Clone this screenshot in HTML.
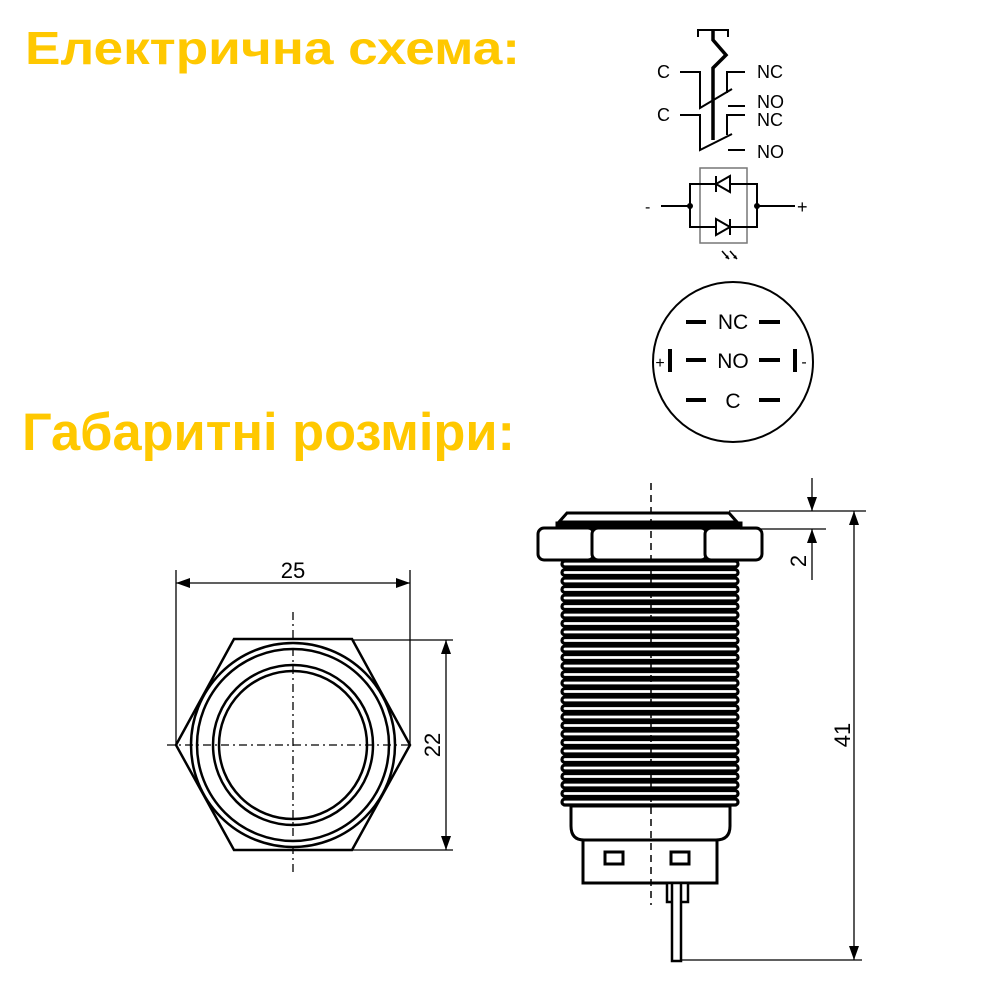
<!DOCTYPE html>
<html><head><meta charset="utf-8"><style>html,body{margin:0;padding:0;background:#fff}</style></head><body>
<svg width="1000" height="1000" viewBox="0 0 1000 1000" xmlns="http://www.w3.org/2000/svg" font-family="Liberation Sans, DejaVu Sans, sans-serif">
<rect width="1000" height="1000" fill="#fff"/>
<text x="25" y="64" font-size="46" font-weight="bold" fill="#FFC800" textLength="495" lengthAdjust="spacingAndGlyphs">Електрична схема:</text>
<text x="22" y="450" font-size="53" font-weight="bold" fill="#FFC800" textLength="493" lengthAdjust="spacingAndGlyphs">Габаритні розміри:</text>

<!-- switch schematic -->
<g stroke="#000" fill="none" stroke-width="2">
<path d="M698,37 V30 H728 V37"/>
<path d="M713,30 V40 L726,55 L713,68 V140" stroke-width="3.5"/>
<path d="M680,72 H700 V108 L732,89"/>
<path d="M745,72 H727 V93"/>
<path d="M728,106 H745"/>
<path d="M680,115 H700 V150 L732,134"/>
<path d="M745,115 H727 V135"/>
<path d="M728,150 H745"/>
</g>
<g font-size="18" fill="#000">
<text x="657" y="78">C</text><text x="657" y="121">C</text>
<text x="757" y="78">NC</text><text x="757" y="108">NO</text><text x="757" y="126">NC</text><text x="757" y="158">NO</text>
</g>
<!-- LED -->
<rect x="700" y="168" width="47" height="75" fill="none" stroke="#777" stroke-width="1.5"/>
<g stroke="#000" stroke-width="2" fill="none">
<rect x="690" y="184" width="67" height="43"/>
<path d="M661,206 H690 M757,206 H795"/>
<path d="M730,176 V192 L716,184 Z M716,176 V192" fill="#fff"/>
<path d="M716,219 V235 L730,227 Z M730,219 V235" fill="#fff"/>
<path d="M722,251 l7,8 M730,251 l7,8" stroke-width="1.5"/>
</g>
<path d="M729,259 l-4,-1 l3,-3 Z M737,259 l-4,-1 l3,-3 Z" fill="#000"/>
<circle cx="690" cy="206" r="3" fill="#000"/><circle cx="757" cy="206" r="3" fill="#000"/>
<text x="645" y="212" font-size="16">-</text><text x="797" y="213" font-size="18">+</text>

<!-- pin circle -->
<circle cx="733" cy="362" r="80" fill="none" stroke="#000" stroke-width="2"/>
<g stroke="#000" stroke-width="4">
<path d="M686,322 H706 M759,322 H780 M686,360 H706 M759,360 H780 M686,400 H706 M759,400 H780"/>
<path d="M670,349 V372 M795,349 V372"/>
</g>
<g font-size="21" text-anchor="middle">
<text x="733" y="329">NC</text><text x="733" y="368">NO</text><text x="733" y="408">C</text>
<text x="660" y="368" font-size="16">+</text><text x="804" y="367" font-size="16">-</text>
</g>

<!-- front hex view -->
<g stroke="#000" fill="none">
<polygon points="176,745 234,639 352,639 410,745 352,850 234,850" stroke-width="2.5"/>
<circle cx="293" cy="745" r="102" stroke-width="2.5"/>
<circle cx="293" cy="745" r="96" stroke-width="2.5"/>
<circle cx="293" cy="745" r="80" stroke-width="2.5"/>
<circle cx="293" cy="745" r="74" stroke-width="2.5"/>
<path d="M293,612 V876 M167,745 H413" stroke-width="1.3" stroke-dasharray="8,4,2,4"/>
<path d="M176,570 V745 M410,570 V745 M352,640 H453 M352,850 H453 M176,583 H410 M446,640 V850" stroke-width="1.3"/>
</g>
<g fill="#000">
<path d="M176,583 l14,-5 v10 Z M410,583 l-14,-5 v10 Z M446,640 l-5,14 h10 Z M446,850 l-5,-14 h10 Z"/>
</g>
<text x="293" y="578" font-size="22" text-anchor="middle">25</text>
<text transform="translate(440,745) rotate(-90)" font-size="22" text-anchor="middle">22</text>

<!-- side view -->
<g stroke="#000" fill="#fff">
<path d="M567,513 H729 L737,522 H559 Z" stroke-width="3"/>
<rect x="538" y="528" width="56" height="32" rx="6" stroke-width="3"/>
<rect x="592" y="528" width="115" height="32" rx="6" stroke-width="3"/>
<rect x="705" y="528" width="57" height="32" rx="6" stroke-width="3"/>
<path d="M556,522 H742 V528 H556 Z" fill="#000" stroke-width="1"/>
</g>
<g stroke="#000" stroke-width="3.2" fill="#fff">
<rect x="562" y="561" width="176" height="6" rx="3"/><rect x="562" y="569.5" width="176" height="6" rx="3"/>
<rect x="562" y="578" width="176" height="6" rx="3"/><rect x="562" y="586.5" width="176" height="6" rx="3"/>
<rect x="562" y="595" width="176" height="6" rx="3"/><rect x="562" y="603.5" width="176" height="6" rx="3"/>
<rect x="562" y="612" width="176" height="6" rx="3"/><rect x="562" y="620.5" width="176" height="6" rx="3"/>
<rect x="562" y="629" width="176" height="6" rx="3"/><rect x="562" y="637.5" width="176" height="6" rx="3"/>
<rect x="562" y="646" width="176" height="6" rx="3"/><rect x="562" y="654.5" width="176" height="6" rx="3"/>
<rect x="562" y="663" width="176" height="6" rx="3"/><rect x="562" y="671.5" width="176" height="6" rx="3"/>
<rect x="562" y="680" width="176" height="6" rx="3"/><rect x="562" y="688.5" width="176" height="6" rx="3"/>
<rect x="562" y="697" width="176" height="6" rx="3"/><rect x="562" y="705.5" width="176" height="6" rx="3"/>
<rect x="562" y="714" width="176" height="6" rx="3"/><rect x="562" y="722.5" width="176" height="6" rx="3"/>
<rect x="562" y="731" width="176" height="6" rx="3"/><rect x="562" y="739.5" width="176" height="6" rx="3"/>
<rect x="562" y="748" width="176" height="6" rx="3"/><rect x="562" y="756.5" width="176" height="6" rx="3"/>
<rect x="562" y="765" width="176" height="6" rx="3"/><rect x="562" y="773.5" width="176" height="6" rx="3"/>
<rect x="562" y="782" width="176" height="6" rx="3"/><rect x="562" y="790.5" width="176" height="6" rx="3"/>
<rect x="562" y="799" width="176" height="6" rx="3"/>
</g>
<g stroke="#000" stroke-width="3" fill="#fff">
<path d="M571,806 H730 V826 Q730,840 716,840 H584 Q571,840 571,826 Z"/>
<rect x="583" y="840" width="134" height="43"/>
<rect x="605" y="852" width="18" height="12"/>
<rect x="671" y="852" width="18" height="12"/>
<rect x="667" y="883" width="21" height="19" stroke-width="2.5"/>
<rect x="672" y="883" width="9" height="78" stroke-width="2.5"/>
</g>
<path d="M651,483 V905" stroke="#000" stroke-width="1.5" stroke-dasharray="7,5"/>
<g stroke="#000" stroke-width="1.3" fill="none">
<path d="M729,511 H866 M740,529 H826 M681,960 H862 M854,511 V960 M812,478 V511 M812,529 V580"/>
</g>
<g fill="#000">
<path d="M812,511 l-5,-14 h10 Z M812,529 l-5,14 h10 Z M854,511 l-5,14 h10 Z M854,960 l-5,-14 h10 Z"/>
</g>
<text transform="translate(806,561) rotate(-90)" font-size="22" text-anchor="middle">2</text>
<text transform="translate(850,735) rotate(-90)" font-size="22" text-anchor="middle">41</text>
</svg>
</body></html>
